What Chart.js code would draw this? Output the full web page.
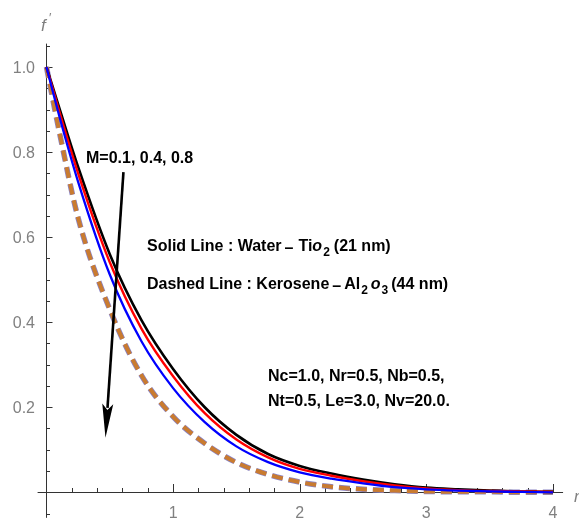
<!DOCTYPE html>
<html><head><meta charset="utf-8">
<script src="https://cdn.jsdelivr.net/npm/chart.js@4.4.1/dist/chart.umd.min.js"></script>
<style>html,body{margin:0;padding:0;background:#fff;}canvas{display:block;}</style>
</head><body>
<canvas id="c" width="579" height="518"></canvas>
<script>
// ---- data ----
const eta = [0, 0.1, 0.25, 0.5, 0.75, 1.0, 1.25, 1.5, 1.75, 2.0, 2.25, 2.5, 2.75, 3.0, 3.25, 3.5, 3.75, 4.0];
const waterM01 = [1.0, 0.905, 0.765, 0.56, 0.405, 0.29, 0.2, 0.135, 0.09, 0.062, 0.044, 0.03, 0.019, 0.011, 0.007, 0.004, 0.002, 0.001];
const waterM04 = [1.0, 0.897, 0.75, 0.541, 0.385, 0.273, 0.186, 0.124, 0.082, 0.055, 0.039, 0.026, 0.016, 0.009, 0.005, 0.003, 0.002, 0.001];
const waterM08 = [1.0, 0.886, 0.73, 0.512, 0.355, 0.245, 0.165, 0.108, 0.071, 0.047, 0.032, 0.021, 0.012, 0.007, 0.004, 0.002, 0.001, 0.0];
const kerosene = [1.0, 0.85, 0.645, 0.43, 0.275, 0.178, 0.115, 0.07, 0.042, 0.024, 0.013, 0.007, 0.004, 0.002, 0.001, 0.001, 0.0, 0.0];
const xTickValues = [1, 2, 3, 4];
const xTickLabels = ['1', '2', '3', '4'];
const yTickValues = [0.2, 0.4, 0.6, 0.8, 1.0];
const yTickLabels = ['0.2', '0.4', '0.6', '0.8', '1.0'];
const mLabel = 'M=0.1, 0.4, 0.8';
const paramLine1 = 'Nc=1.0, Nr=0.5, Nb=0.5,';
const paramLine2 = 'Nt=0.5, Le=3.0, Nv=20.0.';
// arrow endpoints in data coordinates (annotation)
const arrowFrom = [0.608, 0.753];
const arrowTo = [0.466, 0.128];

const pts = arr => eta.map((e, i) => ({x: e, y: arr[i]}));
const BOLD = 'bold 16px "Liberation Sans", Arial, sans-serif';
const GRAY = '#808080';

function drawRuns(ctx, x, y, runs) {
  let cx = x;
  for (const r of runs) {
    cx += (r.gap || 0);
    ctx.font = r.font;
    ctx.fillText(r.t, cx, y + (r.dy || 0));
    cx += ctx.measureText(r.t).width;
  }
}

const axesPlugin = {
  id: 'axesPlugin',
  beforeDatasetsDraw(chart) {
    const {ctx, scales: {x, y}} = chart;
    const px0 = Math.round(x.getPixelForValue(0)) + 0.5;
    const py0 = Math.round(y.getPixelForValue(0)) + 0.5;
    ctx.save();
    ctx.strokeStyle = '#333';
    ctx.lineWidth = 1;
    ctx.beginPath();
    ctx.moveTo(x.getPixelForValue(-0.07), py0);
    ctx.lineTo(x.getPixelForValue(4.08), py0);
    ctx.moveTo(px0, y.getPixelForValue(1.055));
    ctx.lineTo(px0, y.getPixelForValue(-0.06));
    for (let k = 1; k <= 20; k++) {
      const v = k * 0.2;
      const p = Math.round(x.getPixelForValue(v)) + 0.5;
      const len = (k % 5 === 0) ? 8.5 : 4.5;
      ctx.moveTo(p, py0);
      ctx.lineTo(p, py0 - len);
    }
    for (let k = -1; k <= 21; k++) {
      if (k === 0) continue;
      const v = k * 0.05;
      const p = Math.round(y.getPixelForValue(v)) + 0.5;
      const len = (k % 4 === 0) ? 6 : 3.5;
      ctx.moveTo(px0, p);
      ctx.lineTo(px0 + len, p);
    }
    ctx.stroke();
    ctx.fillStyle = GRAY;
    ctx.font = '16px "Liberation Sans", Arial, sans-serif';
    ctx.textBaseline = 'alphabetic';
    ctx.textAlign = 'center';
    xTickValues.forEach((v, i) => ctx.fillText(xTickLabels[i], x.getPixelForValue(v), 517.5));
    ctx.textAlign = 'right';
    yTickValues.forEach((v, i) => ctx.fillText(yTickLabels[i], 35, y.getPixelForValue(v) + 5.8));
    ctx.textAlign = 'left';
    ctx.font = 'italic 17px "Liberation Sans", Arial, sans-serif';
    ctx.fillText('f', 41, 31);
    ctx.font = '13px "Liberation Sans", Arial, sans-serif';
    ctx.fillText('\u2032', 49, 22);
    ctx.font = 'italic 17px "Liberation Sans", Arial, sans-serif';
    ctx.fillText('\u03b7', 574, 502);
    ctx.restore();
  },
  afterDatasetsDraw(chart) {
    const {ctx, scales: {x, y}} = chart;
    ctx.save();
    const x1 = x.getPixelForValue(arrowFrom[0]), y1 = y.getPixelForValue(arrowFrom[1]);
    const x2 = x.getPixelForValue(arrowTo[0]), y2 = y.getPixelForValue(arrowTo[1]);
    const ang = Math.atan2(y2 - y1, x2 - x1);
    const L = 34, W = 5.5;
    const bx = x2 - L * Math.cos(ang), by = y2 - L * Math.sin(ang);
    ctx.strokeStyle = '#000';
    ctx.lineWidth = 2.6;
    ctx.beginPath();
    ctx.moveTo(x1, y1);
    ctx.lineTo(bx + 4 * Math.cos(ang), by + 4 * Math.sin(ang));
    ctx.stroke();
    ctx.fillStyle = '#000';
    ctx.beginPath();
    ctx.moveTo(x2, y2);
    ctx.lineTo(bx - W * Math.sin(ang), by + W * Math.cos(ang));
    ctx.lineTo(bx + 6 * Math.cos(ang), by + 6 * Math.sin(ang));
    ctx.lineTo(bx + W * Math.sin(ang), by - W * Math.cos(ang));
    ctx.closePath();
    ctx.fill();
    ctx.fillStyle = '#000';
    ctx.textAlign = 'left';
    ctx.textBaseline = 'alphabetic';
    ctx.font = BOLD;
    ctx.fillText(mLabel, 86, 162.5);
    ctx.fillText(paramLine1, 268, 381);
    ctx.fillText(paramLine2, 268, 406);
    const IT = 'italic bold 16px "Liberation Sans", Arial, sans-serif';
    const SUB = 'bold 12px "Liberation Sans", Arial, sans-serif';
    drawRuns(ctx, 147, 250.7, [
      {t: 'Solid Line : Water', font: BOLD},
      {t: '\u2013', font: BOLD, dy: 2, gap: 3},
      {t: 'Ti', font: BOLD, gap: 5},
      {t: 'o', font: IT},
      {t: '2', font: SUB, dy: 5, gap: 1},
      {t: '(21 nm)', font: BOLD, gap: 4}
    ]);
    drawRuns(ctx, 147, 289, [
      {t: 'Dashed Line : Kerosene', font: BOLD},
      {t: '\u2013', font: BOLD, dy: 2, gap: 3},
      {t: 'Al', font: BOLD, gap: 3},
      {t: '2', font: SUB, dy: 5, gap: 1},
      {t: 'o', font: IT, gap: 3},
      {t: '3', font: SUB, dy: 5, gap: 1},
      {t: '(44 nm)', font: BOLD, gap: 3}
    ]);
    ctx.restore();
  }
};

new Chart(document.getElementById('c'), {
  type: 'line',
  data: {
    datasets: [
      {label: 'Water–TiO2 M=0.8', data: pts(waterM08), borderColor: '#0000ff', borderWidth: 2.3, order: 1},
      {label: 'Water–TiO2 M=0.4', data: pts(waterM04), borderColor: '#ff0000', borderWidth: 2.4, order: 2},
      {label: 'Water–TiO2 M=0.1', data: pts(waterM01), borderColor: '#000000', borderWidth: 2.6, order: 3},
      {label: 'Kerosene–Al2O3', data: pts(kerosene), borderColor: '#c97b30', borderWidth: 4, borderDash: [11, 6], order: 4},
      {label: 'Kerosene–Al2O3 (M)', data: pts(kerosene), borderColor: '#8a84c4', borderWidth: 5.5, borderDash: [11, 6], order: 5}
    ]
  },
  options: {
    responsive: false,
    animation: false,
    layout: {padding: {left: 37.6, right: 13.4, top: 41.5, bottom: 0.2}},
    plugins: {legend: {display: false}, tooltip: {enabled: false}},
    elements: {point: {radius: 0}, line: {cubicInterpolationMode: 'monotone', fill: false, borderCapStyle: 'butt'}},
    scales: {
      x: {type: 'linear', min: -0.07, max: 4.1, display: false},
      y: {type: 'linear', min: -0.06, max: 1.06, display: false}
    }
  },
  plugins: [axesPlugin]
});
</script>
</body></html>
